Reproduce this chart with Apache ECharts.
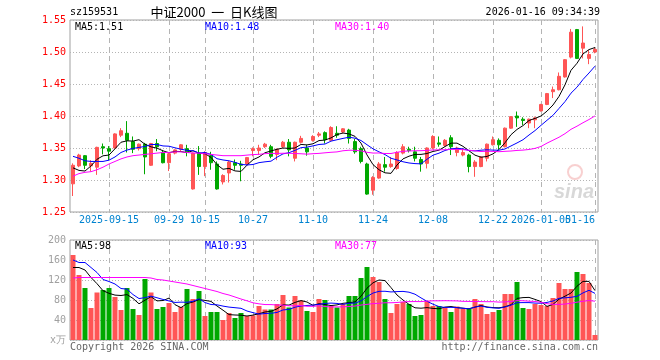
<!DOCTYPE html>
<html><head><meta charset="utf-8">
<script src="https://cdn.jsdelivr.net/npm/echarts@6/dist/echarts.min.js"></script>
<style>html,body{margin:0;padding:0;background:#fff}#c{width:660px;height:360px}</style>
</head><body><div id="c"></div>
<script>
const dates = [
"2025-09-05","2025-09-08","2025-09-09","2025-09-10","2025-09-11","2025-09-12",
"2025-09-15","2025-09-16","2025-09-17","2025-09-18","2025-09-19",
"2025-09-22","2025-09-23","2025-09-24","2025-09-25","2025-09-26","2025-09-29","2025-09-30",
"2025-10-09","2025-10-10","2025-10-13","2025-10-14","2025-10-15","2025-10-16","2025-10-17",
"2025-10-20","2025-10-21","2025-10-22","2025-10-23","2025-10-24",
"2025-10-27","2025-10-28","2025-10-29","2025-10-30","2025-10-31",
"2025-11-03","2025-11-04","2025-11-05","2025-11-06","2025-11-07",
"2025-11-10","2025-11-11","2025-11-12","2025-11-13","2025-11-14",
"2025-11-17","2025-11-18","2025-11-19","2025-11-20","2025-11-21",
"2025-11-24","2025-11-25","2025-11-26","2025-11-27","2025-11-28",
"2025-12-01","2025-12-02","2025-12-03","2025-12-04","2025-12-05",
"2025-12-08","2025-12-09","2025-12-10","2025-12-11","2025-12-12",
"2025-12-15","2025-12-16","2025-12-17","2025-12-18","2025-12-19",
"2025-12-22","2025-12-23","2025-12-24","2025-12-25","2025-12-26",
"2025-12-29","2025-12-30","2025-12-31",
"2026-01-05","2026-01-06","2026-01-07","2026-01-08","2026-01-09",
"2026-01-12","2026-01-13","2026-01-14","2026-01-15","2026-01-16"];

const opens = [1.294,1.322,1.338,1.322,1.320,1.352,1.349,1.350,1.370,1.373,
1.360,1.349,1.356,1.323,1.357,1.343,1.327,1.342,1.348,1.349,
1.286,1.342,1.321,1.338,1.325,1.297,1.311,1.327,1.325,1.325,
1.346,1.346,1.352,1.352,1.340,1.352,1.359,1.334,1.359,1.350,
1.362,1.370,1.374,1.362,1.373,1.375,1.378,1.360,1.349,1.325,
1.284,1.303,1.324,1.321,1.318,1.342,1.348,1.344,1.332,1.326,
1.350,1.358,1.354,1.366,1.343,1.339,1.339,1.321,1.321,1.334,
1.355,1.362,1.352,1.381,1.400,1.395,1.389,1.394,1.408,1.418,
1.438,1.441,1.461,1.492,1.535,1.506,1.490,1.500];
const closes = [1.323,1.339,1.323,1.326,1.351,1.350,1.345,1.372,1.377,1.362,
1.348,1.356,1.336,1.357,1.352,1.327,1.341,1.347,1.355,1.344,
1.342,1.321,1.343,1.327,1.286,1.307,1.328,1.323,1.323,1.335,
1.349,1.350,1.356,1.337,1.348,1.359,1.347,1.359,1.365,1.344,
1.368,1.372,1.363,1.382,1.370,1.380,1.365,1.344,1.329,1.278,
1.304,1.325,1.320,1.325,1.343,1.352,1.346,1.334,1.325,1.350,
1.368,1.356,1.362,1.352,1.350,1.343,1.321,1.328,1.336,1.356,
1.363,1.355,1.381,1.399,1.397,1.393,1.395,1.397,1.418,1.435,
1.441,1.462,1.488,1.531,1.490,1.514,1.496,1.504];
const lows = [1.275,1.320,1.317,1.313,1.308,1.340,1.331,1.349,1.367,1.343,
1.342,1.346,1.309,1.322,1.345,1.326,1.314,1.340,1.345,1.337,
1.285,1.308,1.306,1.316,1.285,1.293,1.296,1.316,1.298,1.323,
1.337,1.339,1.350,1.334,1.331,1.350,1.337,1.329,1.357,1.338,
1.360,1.367,1.357,1.361,1.366,1.373,1.357,1.341,1.326,1.277,
1.277,1.302,1.313,1.319,1.316,1.340,1.343,1.329,1.313,1.318,
1.348,1.352,1.352,1.339,1.337,1.337,1.312,1.305,1.320,1.329,
1.354,1.348,1.351,1.380,1.383,1.386,1.381,1.381,1.407,1.417,
1.428,1.440,1.460,1.490,1.489,1.490,1.481,1.498];
const highs = [1.326,1.341,1.339,1.331,1.352,1.357,1.353,1.373,1.381,1.392,
1.368,1.357,1.358,1.358,1.364,1.347,1.343,1.348,1.356,1.355,
1.343,1.353,1.345,1.344,1.329,1.309,1.330,1.332,1.330,1.336,
1.351,1.355,1.358,1.355,1.349,1.361,1.364,1.360,1.369,1.355,
1.370,1.375,1.376,1.384,1.384,1.381,1.380,1.364,1.352,1.327,
1.306,1.328,1.336,1.336,1.345,1.356,1.352,1.352,1.336,1.351,
1.370,1.368,1.364,1.370,1.352,1.350,1.341,1.331,1.337,1.357,
1.368,1.365,1.382,1.400,1.407,1.398,1.396,1.399,1.419,1.436,
1.446,1.468,1.489,1.536,1.536,1.540,1.503,1.507];

const ma5 = [1.319,1.315,1.314,1.322,1.3324,1.3378,1.339,1.3488,1.359,1.3612,
1.3608,1.363,1.3558,1.3518,1.3498,1.3456,1.3426,1.3448,1.3444,1.3428,
1.3458,1.3418,1.341,1.3354,1.3238,1.3168,1.3182,1.3142,1.3134,1.3232,
1.3316,1.336,1.3426,1.3454,1.348,1.35,1.3494,1.35,1.3556,1.3548,
1.3566,1.3616,1.3624,1.3658,1.371,1.3734,1.372,1.3682,1.3576,1.3392,
1.324,1.316,1.3112,1.3104,1.3234,1.333,1.3372,1.34,1.34,1.3414,
1.3446,1.3466,1.3522,1.3576,1.3576,1.3526,1.3456,1.3388,1.3356,1.3368,
1.3408,1.3476,1.3582,1.3708,1.379,1.385,1.393,1.3962,1.4,1.4076,
1.4172,1.4306,1.4488,1.4714,1.4824,1.497,1.5038,1.507];
const ma10 = [1.337,1.334,1.330,1.329,1.329,1.329,1.331,1.336,1.343,1.3468,
1.3493,1.351,1.3523,1.3554,1.3555,1.3532,1.3528,1.3503,1.3481,1.3463,
1.3457,1.3422,1.3429,1.3399,1.3333,1.3313,1.33,1.3276,1.3244,1.3235,
1.3242,1.3271,1.3284,1.3294,1.3356,1.3408,1.3427,1.3463,1.3505,1.3514,
1.3533,1.3555,1.3562,1.3607,1.3629,1.365,1.3668,1.3653,1.3617,1.3551,
1.3487,1.344,1.3397,1.334,1.3313,1.3285,1.3266,1.3256,1.3252,1.3324,
1.3388,1.3419,1.3461,1.3488,1.3495,1.3486,1.3461,1.3455,1.3466,1.3472,
1.3467,1.3466,1.3485,1.3532,1.3579,1.3629,1.3703,1.3772,1.3854,1.3933,
1.4011,1.4118,1.4225,1.4357,1.445,1.4571,1.4672,1.4779];
const ma30 = [1.306,1.310,1.312,1.313,1.316,1.320,1.325,1.329,1.333,1.336,
1.338,1.339,1.340,1.341,1.342,1.343,1.343,1.344,1.344,1.343,
1.342,1.342,1.341,1.340,1.339,1.338,1.338,1.338,1.338,1.3389,
1.3397,1.3401,1.3412,1.3416,1.3415,1.3418,1.3418,1.3414,1.341,1.3404,
1.3411,1.3416,1.3425,1.3433,1.3439,1.3457,1.3465,1.3464,1.3455,1.3433,
1.3421,1.3422,1.3414,1.3414,1.3433,1.3448,1.3454,1.3457,1.3458,1.3463,
1.3469,1.3471,1.3473,1.3478,1.3479,1.3474,1.3465,1.3455,1.3445,1.3449,
1.3447,1.3442,1.3448,1.3453,1.3462,1.3467,1.3477,1.3494,1.3524,1.3576,
1.3622,1.3668,1.3724,1.3792,1.3841,1.3895,1.3945,1.4002];

const volumes = [170,130,104,64,95,100,104,86,60,104,
62,50,122,95,62,66,74,56,66,102,
82,98,48,56,56,40,54,44,54,48,
49,68,61,61,72,90,65,88,79,58,
56,82,80,68,65,72,88,88,124,146,
126,116,82,54,72,76,72,48,50,78,
68,68,65,56,67,62,62,82,72,52,
56,60,92,92,116,64,62,72,70,68,
84,114,102,102,136,132,114,10];
const volMa5 = [145,145,140,125,112.6,98.6,93.4,89.8,89,90.8,
83.2,72.4,79.6,86.6,78.2,79,83.8,70.6,64.8,72.8,
76,80.8,79.2,77.2,68,59.6,50.8,50,49.6,48,
49.8,52.6,56,57.4,62.2,70.4,69.8,75.2,78.8,76,
69.2,72.6,71,68.8,70.2,73.4,74.6,76.2,87.4,103.6,
114.4,120,118.8,104.8,90,80,71.2,64.4,63.6,64.8,
63.2,62.4,65.8,67,64.8,63.6,62.4,65.8,69,66,
64.8,64.4,66.4,70.4,83.2,84.8,85.2,81.2,76.8,67.2,
71.2,81.6,87.6,94,107.6,117.2,117.2,98.8];
const volMa10 = [160,155,155,145,135,121,117,112,103,101.7,
90.9,82.9,84.7,87.8,84.5,81.1,78.1,75.1,75.7,75.5,
77.5,82.3,74.9,71,70.4,67.8,65.8,64.6,63.4,58,
54.7,51.7,53,53.5,55.1,60.1,61.2,65.6,68.1,69.1,
69.8,71.2,73.1,73.8,73.1,71.3,73.6,73.6,78.1,86.9,
93.9,97.3,97.5,96.1,96.8,97.2,95.6,91.6,84.2,77.4,
71.6,66.8,65.1,65.3,64.8,63.4,62.4,65.8,68,65.4,
64.2,63.4,66.1,69.7,74.6,74.8,74.8,73.8,73.6,75.2,
78,83.4,84.4,85.4,87.4,94.2,99.4,93.2];
const volMa30 = [124,125,125,125,125,125,125,125,125,125,
125,125,125,124,121,120,118,116,114,112,
109,106,103,100,97,93,90,86,82,78.4,
74.4,72.3,70.9,70.8,70,69.7,68.4,68.4,69.1,67.5,
67.3,68.4,67,66.1,66.2,66.4,66.9,67.9,69.9,71.3,
72.8,73.4,74.5,74.5,75,76.2,76.8,76.9,76.8,77.8,
78.4,78.4,78.6,78.4,78.2,77.3,77.2,77,76.8,76.6,
76.6,75.8,76.2,77,78.7,78.5,77.6,77.1,75.3,72.7,
71.3,71.2,71.9,73.5,75.6,77.5,78.9,77.6];

const tickDates = ["2025-09-15","2025-09-29","2025-10-15","2025-10-27","2025-11-10","2025-11-24","2025-12-08","2025-12-22","2026-01-05","2026-01-16"];
const tickLabels = ["2025-09-15","09-29","10-15","10-27","11-10","11-24","12-08","12-22","2026-01-05","01-16"];
const priceTicks = [1.25,1.30,1.35,1.40,1.45,1.50,1.55];
const volTicks = [0,40,80,120,160,200];

const MONO = "'DejaVu Sans Mono', monospace";
const RED = '#ff5555', GREEN = '#00a800';
const LABEL_BLUE = '#0083d0';
const lastTick = tickDates[tickDates.length - 1];
const isTick = (idx, val) => tickDates.indexOf(val) >= 0;
const isInnerTick = (idx, val) => tickDates.indexOf(val) >= 0 && val !== lastTick;

const kData = dates.map((d, i) => [opens[i], closes[i], lows[i], highs[i]]);
const volData = volumes.map((v, i) => ({value: v, itemStyle: {color: closes[i] >= opens[i] ? RED : GREEN}}));

function lineSeries(name, data, color, xi) {
  return {name, type: 'line', data, xAxisIndex: xi, yAxisIndex: xi, showSymbol: false, symbol: 'none',
    lineStyle: {color, width: 1}, itemStyle: {color}, z: 5, silent: true};
}
const xBase = (gi, showLabel) => ({
  type: 'category', gridIndex: gi, data: dates, boundaryGap: true,
  axisLine: {show: false}, axisTick: {show: false, alignWithLabel: true},
  axisLabel: showLabel ? {show: true, interval: isInnerTick, formatter: v => tickLabels[tickDates.indexOf(v)],
    color: LABEL_BLUE, fontFamily: MONO, fontSize: 10, margin: 3, hideOverlap: false} : {show: false},
  splitLine: {show: true, interval: isTick, alignWithLabel: true, lineStyle: {color: '#b4b4b4', width: 1, type: [5, 4]}}
});
const txt = (x, y, text, color, align) => ({type: 'text', x, y, silent: true, z: 10,
  style: {text, fill: color, font: "10px 'DejaVu Sans Mono'", textAlign: align || 'left', textVerticalAlign: 'middle'}});

const chart = echarts.init(document.getElementById('c'));
chart.setOption({
  animation: false,
  backgroundColor: '#fff',
  grid: [
    {left: 70, top: 20, width: 528, height: 192, show: true, borderColor: '#a0a0a0', borderWidth: 1, backgroundColor: 'transparent', outerBoundsMode: 'none', containLabel: false},
    {left: 70, top: 240, width: 528, height: 100, show: true, borderColor: '#a0a0a0', borderWidth: 1, backgroundColor: 'transparent', outerBoundsMode: 'none', containLabel: false}
  ],
  xAxis: [xBase(0, true), xBase(1, false)],
  yAxis: [
    {type: 'value', gridIndex: 0, min: priceTicks[0], max: priceTicks[priceTicks.length - 1], interval: 0.05,
      axisLine: {show: false}, axisTick: {show: false},
      axisLabel: {color: '#ff0000', fontFamily: MONO, fontSize: 10, margin: 4, formatter: v => v.toFixed(2)},
      splitLine: {show: true, lineStyle: {color: '#b4b4b4', width: 1, type: [1, 2]}}},
    {type: 'value', gridIndex: 1, min: volTicks[0], max: volTicks[volTicks.length - 1], interval: 40,
      axisLine: {show: false}, axisTick: {show: false},
      axisLabel: {color: '#a0a0a0', fontFamily: MONO, fontSize: 10, margin: 4, formatter: v => v === 0 ? 'x万' : String(v)},
      splitLine: {show: true, lineStyle: {color: '#b4b4b4', width: 1, type: [1, 2]}}}
  ],
  series: [
    {name: 'K', type: 'candlestick', data: kData, xAxisIndex: 0, yAxisIndex: 0, barWidth: 4,
      itemStyle: {color: RED, color0: GREEN, borderColor: RED, borderColor0: GREEN, borderWidth: 1}, silent: true},
    lineSeries('MA5', ma5, '#000000', 0),
    lineSeries('MA10', ma10, '#0000ff', 0),
    lineSeries('MA30', ma30, '#ff00ff', 0),
    {name: 'VOL', type: 'bar', data: volData, xAxisIndex: 1, yAxisIndex: 1, barWidth: 5, silent: true},
    lineSeries('VMA5', volMa5, '#000000', 1),
    lineSeries('VMA10', volMa10, '#0000ff', 1),
    lineSeries('VMA30', volMa30, '#ff00ff', 1)
  ]
});

// last tick label (right-aligned at its tick, overlapping like the original)
const lastX = chart.convertToPixel({xAxisIndex: 0}, lastTick);
const bottomY = chart.convertToPixel({yAxisIndex: 0}, priceTicks[0]);

chart.setOption({
  graphic: [
    txt(70, 12, 'sz159531', '#000'),
    {type: 'text', x: 214, y: 12, silent: true, style: {text: '中证2000  一  日K线图', fill: '#000', font: "13px 'Noto Sans CJK SC'", textAlign: 'center', textVerticalAlign: 'middle'}},
    txt(600, 12, '2026-01-16 09:34:39', '#000', 'right'),
    txt(75, 27, 'MA5:' + ma5[ma5.length - 1].toFixed(2), '#000'),
    txt(205, 27, 'MA10:' + ma10[ma10.length - 1].toFixed(2), '#0000ff'),
    txt(335, 27, 'MA30:' + ma30[ma30.length - 1].toFixed(2), '#ff00ff'),
    txt(75, 246, 'MA5:' + Math.floor(volMa5[volMa5.length - 1]), '#000'),
    txt(205, 246, 'MA10:' + Math.floor(volMa10[volMa10.length - 1]), '#0000ff'),
    txt(335, 246, 'MA30:' + Math.floor(volMa30[volMa30.length - 1]), '#ff00ff'),
    {type: 'text', x: lastX, y: bottomY + 3, silent: true, style: {text: tickLabels[tickLabels.length - 1], fill: LABEL_BLUE, font: "10px 'DejaVu Sans Mono'", textAlign: 'right', textVerticalAlign: 'top'}},
    txt(70, 347, 'Copyright 2026 SINA.COM', '#666'),
    txt(598, 347, 'http://finance.sina.com.cn', '#666', 'right'),
    {type: 'circle', silent: true, shape: {cx: 575, cy: 172, r: 7}, style: {fill: 'none', stroke: 'rgba(240,150,150,0.45)', lineWidth: 2}},
    {type: 'text', silent: true, x: 574, y: 192, style: {text: 'sina', fill: 'rgba(190,190,190,0.6)', font: "italic bold 20px 'Liberation Sans'", textAlign: 'center', textVerticalAlign: 'middle'}}
  ]
});
</script></body></html>
